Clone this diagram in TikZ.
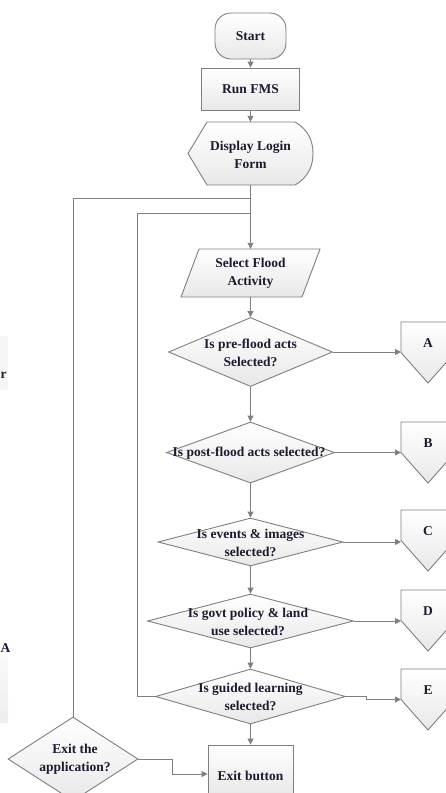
\documentclass[tikz,border=0pt]{standalone}
\usepackage{fontspec}
\setmainfont{Liberation Serif}
\usetikzlibrary{arrows.meta,shapes.geometric}
\definecolor{ln}{HTML}{7F7F7F}
\definecolor{tx}{HTML}{1C1C30}
\begin{document}
\begin{tikzpicture}[x=1pt,y=-1pt,
  box/.style={draw=ln, line width=0.9pt, top color=white, bottom color=black!9, inner sep=0pt},
  dia/.style={box, diamond, inner sep=0pt},
  anch/.style={inner sep=0pt},
  lbl/.style={font=\fontsize{13.5}{18}\selectfont\bfseries, text=tx, align=center, inner sep=0pt},
  flow/.style={draw=ln, line width=0.9pt, -{Triangle[length=6pt,width=6pt]}},
  conn/.style={draw=ln, line width=0.9pt},
]
\useasboundingbox (0,0) rectangle (445,793);

% fragments of a neighbouring figure at the left edge
\path[fill=black!4] (-30,336) rectangle (8,390);
\node[lbl, anchor=west] (frag1) at (0.5,375) {r};
\path[top color=black!2, bottom color=black!7] (-30,655) rectangle (8,722);
\node[lbl, anchor=west] (frag2) at (0.5,648) {A};

% terminal and process
\node[box, rounded corners=16pt, minimum width=71pt, minimum height=46pt] (start) at (250.5,36) {};
\node[lbl] (startt) at (start) {Start};
\node[box, minimum width=98pt, minimum height=42pt] (run) at (250.5,89) {};
\node[lbl] (runt) at (run) {Run FMS};

% display
\path[box] (188,153.5) -- (207,122) -- (295,122)
  .. controls (309,130) and (313,142) .. (313,153.5)
  .. controls (313,165) and (309,177) .. (295,185) -- (207,185) -- cycle;
\node[anch, minimum width=125pt, minimum height=63pt] (disp) at (250.5,153.5) {};
\node[lbl] (dispt) at (250.5,155) {Display Login\\Form};

% input
\path[box] (199,249) -- (320,249) -- (302,297) -- (181,297) -- cycle;
\node[anch, minimum width=139pt, minimum height=48pt] (sel) at (250.5,273) {};
\node[lbl] (selt) at (250.5,273) {Select Flood\\Activity};

% decisions
\node[dia, minimum width=164pt, minimum height=69pt] (d1) at (250.5,352) {};
\node[lbl] (d1t) at (250.5,353) {Is pre-flood acts\\Selected?};
\node[dia, minimum width=168pt, minimum height=61pt] (d2) at (250.5,452.5) {};
\node[lbl] (d2t) at (249,453) {Is post-flood acts selected?};
\node[dia, minimum width=185pt, minimum height=48pt] (d3) at (250.5,542) {};
\node[lbl] (d3t) at (250.5,543) {Is events \& images\\selected?};
\node[dia, minimum width=206pt, minimum height=54pt] (d4) at (250.5,621) {};
\node[lbl] (d4t) at (248,622) {Is govt policy \& land\\use selected?};
\node[dia, minimum width=190pt, minimum height=55pt] (d5) at (250.5,696.5) {};
\node[lbl] (d5t) at (250.5,697) {Is guided learning\\selected?};

% exit
\node[box, minimum width=85pt, minimum height=50pt] (exitb) at (250.5,770) {};
\node[lbl] (exitbt) at (250.5,776) {Exit button};
\node[dia, minimum width=130pt, minimum height=84pt] (exitd) at (73,759) {};
\node[lbl] (exitdt) at (75,759) {Exit the\\application?};

% off-page connectors
\foreach \n/\y in {A/322, B/422, C/510, D/590, E/669} {
  \path[box] (401,\y) -- (455,\y) -- (455,\y+30.5) -- (428,\y+61) -- (401,\y+30.5) -- cycle;
  \coordinate (\n) at (401,\y+30.5);
  \node[lbl] (\n t) at (428,\y+21) {\n};
}

% main flow
\draw[flow] (start.south) -- (run.north);
\draw[flow] (run.south) -- (disp.north);
\draw[flow] (disp.south) -- (sel.north);
\draw[flow] (sel.south) -- (d1.north);
\draw[flow] (d1.south) -- (d2.north);
\draw[flow] (d2.south) -- (d3.north);
\draw[flow] (d3.south) -- (d4.north);
\draw[flow] (d4.south) -- (d5.north);
\draw[flow] (d5.south) -- (exitb.north);

% branches to connectors
\draw[flow] (d1.east) -- (d1.east -| A);
\draw[flow] (d2.east) -- (d2.east -| B);
\draw[flow] (d3.east) -- (d3.east -| C);
\draw[flow] (d4.east) -- (d4.east -| D);
\draw[flow] (d5.east) -- ++(20,0) |- (E);

% loops back
\coordinate (j1) at (250.5,198);
\coordinate (j2) at (250.5,213);
\draw[conn] (exitd.north) |- (j1);
\draw[conn] (d5.west) -- ++(-18,0) |- (j2);

% exit question to exit button
\draw[flow] (exitd.east) -- ++(34,0) |- ([yshift=-4pt]exitb.west);
\end{tikzpicture}
\end{document}
